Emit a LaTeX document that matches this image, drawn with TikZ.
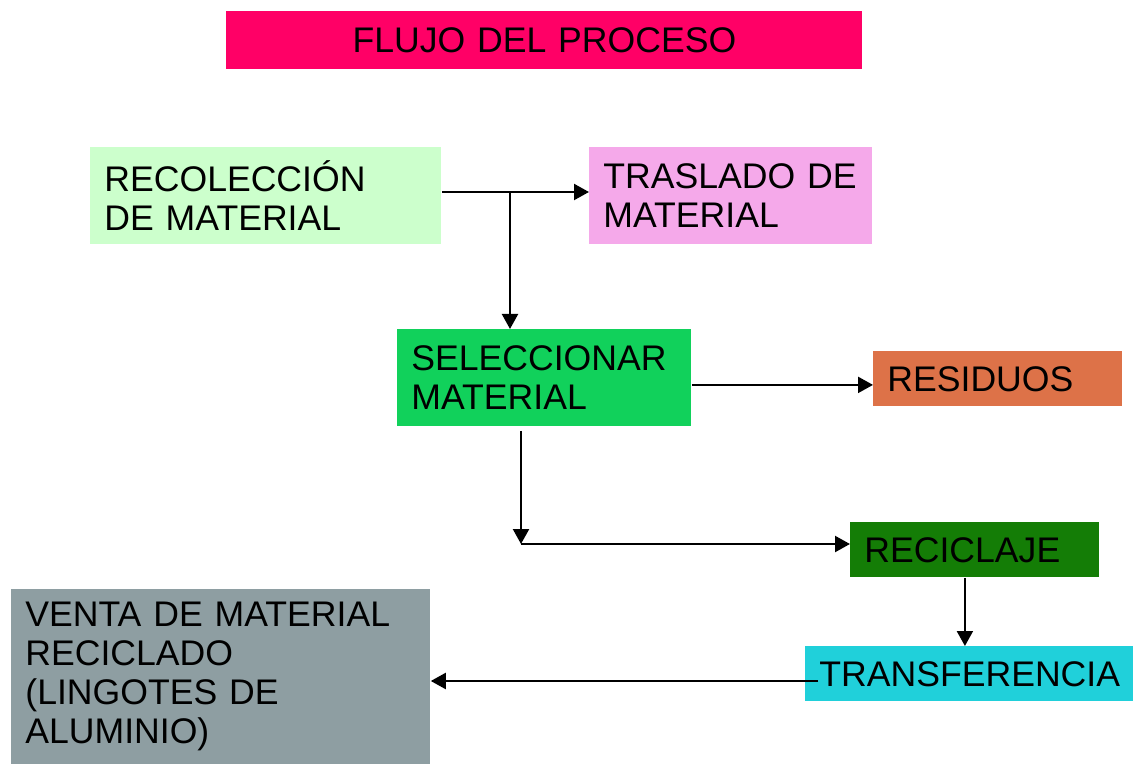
\documentclass[tikz,border=0pt]{standalone}
\usepackage{fontspec}
\setmainfont{Liberation Sans}
\usetikzlibrary{arrows.meta}
\definecolor{titlepink}{HTML}{FF0066}
\definecolor{recolgreen}{HTML}{CCFFCC}
\definecolor{traslpink}{HTML}{F5A9EA}
\definecolor{selecgreen}{HTML}{11D15B}
\definecolor{residorange}{HTML}{DD7248}
\definecolor{recicgreen}{HTML}{147D06}
\definecolor{transfcyan}{HTML}{20D0DA}
\definecolor{ventagray}{HTML}{8E9EA2}
\tikzset{
    flowbox/.style={rectangle, anchor=north west, inner xsep=7pt, inner ysep=0pt,
        align=left, font=\fontsize{17.8}{19.5}\selectfont},
    flowarrow/.style={-{Triangle[length=7.5pt,width=8pt]}, line width=1.1pt},
}

\begin{document}
\begin{tikzpicture}[x=0.5pt, y=-0.5pt]
        \useasboundingbox (0,0) rectangle (1134,764);
        %title
        \node[flowbox, fill=titlepink, align=center, text width=304pt, minimum height=29pt] (title) at (226,11) {FLUJO DEL PROCESO};
        %process boxes
        \node[flowbox, fill=recolgreen, text width=161.5pt, minimum height=48.5pt] (recol) at (90,147) {RECOLECCIÓN\\DE MATERIAL};
        \node[flowbox, fill=traslpink, text width=127.5pt, minimum height=48.5pt] (trasl) at (589,147) {TRASLADO DE\\MATERIAL};
        \node[flowbox, fill=selecgreen, text width=133pt, minimum height=48.5pt] (selec) at (397,329) {SELECCIONAR\\MATERIAL};
        \node[flowbox, fill=residorange, text width=110.5pt, minimum height=27.5pt] (resid) at (873,351) {RESIDUOS};
        \node[flowbox, fill=recicgreen, text width=110.5pt, minimum height=27.5pt] (recic) at (850,522) {RECICLAJE};
        \node[flowbox, fill=transfcyan, text width=150pt, minimum height=27.5pt] (transf) at (805,646) {TRANSFERENCIA};
        \node[flowbox, fill=ventagray, text width=195.5pt, minimum height=87.5pt] (venta) at (11,589) {VENTA DE MATERIAL\\RECICLADO\\(LINGOTES DE\\ALUMINIO)};
        %helper points
        \coordinate (split) at (510,192);
        \coordinate (bend) at (521,544);
        \coordinate (tstart) at (818,681);
        %connectors
        \draw[flowarrow] (recol.east |- split) -- (trasl.west |- split);
        \draw[flowarrow] (split) -- (split |- selec.north);
        \draw[flowarrow] ([yshift=-3.5pt]selec.east) -- ([yshift=-3.5pt]selec.east -| resid.west);
        \draw[flowarrow] ([yshift=-2pt]bend |- selec.south) -- (bend);
        \draw[flowarrow] (bend) -- (recic.west |- bend);
        \draw[flowarrow] ([xshift=-5pt]recic.south) -- ([xshift=-5pt]recic.south |- transf.north);
        \draw[flowarrow] (tstart) -- (tstart -| venta.east);
    \end{tikzpicture}
\end{document}
